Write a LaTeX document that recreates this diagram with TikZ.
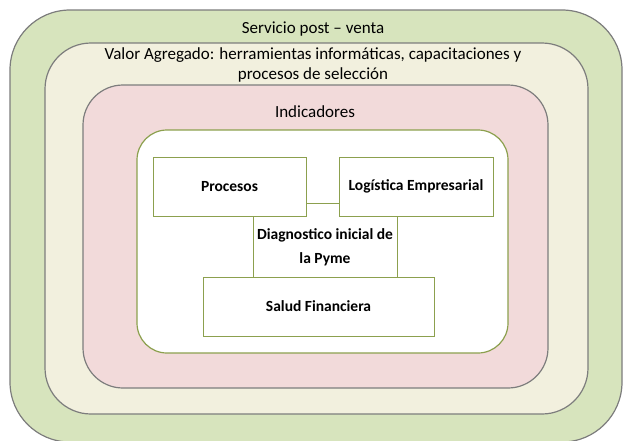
\documentclass[tikz,border=0pt]{standalone}
\usepackage{fontspec}
\setmainfont{Carlito}
\usepackage{tikz}

\definecolor{posgreen}{RGB}{215,228,189}
\definecolor{valcream}{RGB}{242,240,222}
\definecolor{indpink}{RGB}{242,218,218}
\definecolor{olive}{RGB}{140,160,78}
\definecolor{rim}{RGB}{125,125,125}

\begin{document}
\begin{tikzpicture}[%
    x=1pt, y=-1pt,
    layer/.style={draw=rim, line width=1.2pt, inner sep=0pt},
    core/.style={draw=olive, line width=1.2pt, fill=white, inner sep=0pt},
    blocktext/.style={font=\fontsize{15.5}{24}\selectfont\bfseries, inner sep=0pt},
    block/.style={blocktext, draw=olive, line width=1pt, fill=white},
    caption/.style={font=\fontsize{17}{20}\selectfont, align=center},
  ]
    \clip (0,0) rectangle (626,440);
    \fill[white] (0,0) rectangle (626,440);

    % nested layers
    \node[layer, fill=posgreen, rounded corners=60pt,
      minimum width=612pt, minimum height=432pt] (posventa) at (316,226) {};
    \node[layer, fill=valcream, rounded corners=46pt,
      minimum width=543pt, minimum height=371pt] (valor) at (316.5,228.5) {};
    \node[layer, fill=indpink, rounded corners=40pt,
      minimum width=465pt, minimum height=303pt] (indic) at (315.5,236.5) {};
    \node[core, rounded corners=30pt,
      minimum width=371pt, minimum height=223pt] (diagarea) at (322.5,241.5) {};

    \node[caption] (posventalabel) at (313,29) {Servicio post -- venta};
    \node[caption] (valorlabel) at (313,65)
      {Valor Agregado: herramientas informáticas, capacitaciones y\\
       procesos de selección};
    \node[caption] (indiclabel) at (315,112) {Indicadores};

    % blocks
    \node[block, minimum width=144pt, minimum height=74pt] (diag) at (325,240) {};
    \node[blocktext, align=center] (diaglabel) at (325,247)
      {Diagnostico inicial de\\ la Pyme};
    \node[block, minimum width=153pt, minimum height=59pt] (proc) at (229.5,186.5) {Procesos};
    \node[block, minimum width=154pt, minimum height=59pt] (logis) at (416,186.5) {Logística Empresarial};
    \node[block, minimum width=231pt, minimum height=59pt] (salud) at (318.5,306.5) {Salud Financiera};
  \end{tikzpicture}
\end{document}
